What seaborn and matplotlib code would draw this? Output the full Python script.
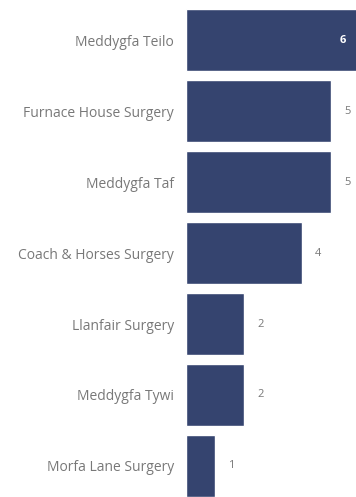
import matplotlib
matplotlib.use("Agg")
import matplotlib.pyplot as plt
import matplotlib.transforms as mtransforms
import seaborn as sns
import pandas as pd

practices = [
    "Meddygfa Teilo",
    "Furnace House Surgery",
    "Meddygfa Taf",
    "Coach & Horses Surgery",
    "Llanfair Surgery",
    "Meddygfa Tywi",
    "Morfa Lane Surgery",
]
counts = [6, 5, 5, 4, 2, 2, 1]

df = pd.DataFrame({"practice": practices, "count": counts})

sns.set_style("white")
plt.rcParams["font.family"] = ["Open Sans", "DejaVu Sans"]

BAR = "#35446F"
TEXT = "#787878"

fig = plt.figure(figsize=(3.56, 4.97), dpi=100)
ax = fig.add_axes([186 / 356, 0.0, 170 / 356, 1.0])

sns.barplot(data=df, x="count", y="practice", orient="h", color=BAR,
            saturation=1, width=0.875, ax=ax)

xmax = 170 / 29
ax.set_xlim(0, xmax)
ax.set_ylim(6.44, -0.571)

ax.set_xlabel("")
ax.set_ylabel("")
ax.set_xticks([])
ax.tick_params(axis="y", length=0, pad=8.5, labelsize=10, labelcolor=TEXT)
for s in ax.spines.values():
    s.set_visible(False)

# value labels: outside the bar end, or inside when the bar runs past the axis
edge = mtransforms.blended_transform_factory(ax.transAxes, ax.transData)
for i, v in enumerate(counts):
    if v > xmax:
        ax.annotate(str(v), xy=(1.0, i), xycoords=edge, xytext=(-7, 0),
                    textcoords="offset points", ha="right", va="center",
                    color="white", fontsize=8, fontweight="bold")
    else:
        ax.annotate(str(v), xy=(v, i), xycoords="data", xytext=(9.5, 0),
                    textcoords="offset points", ha="left", va="center",
                    color=TEXT, fontsize=8)

fig.savefig("out.png", dpi=100)
